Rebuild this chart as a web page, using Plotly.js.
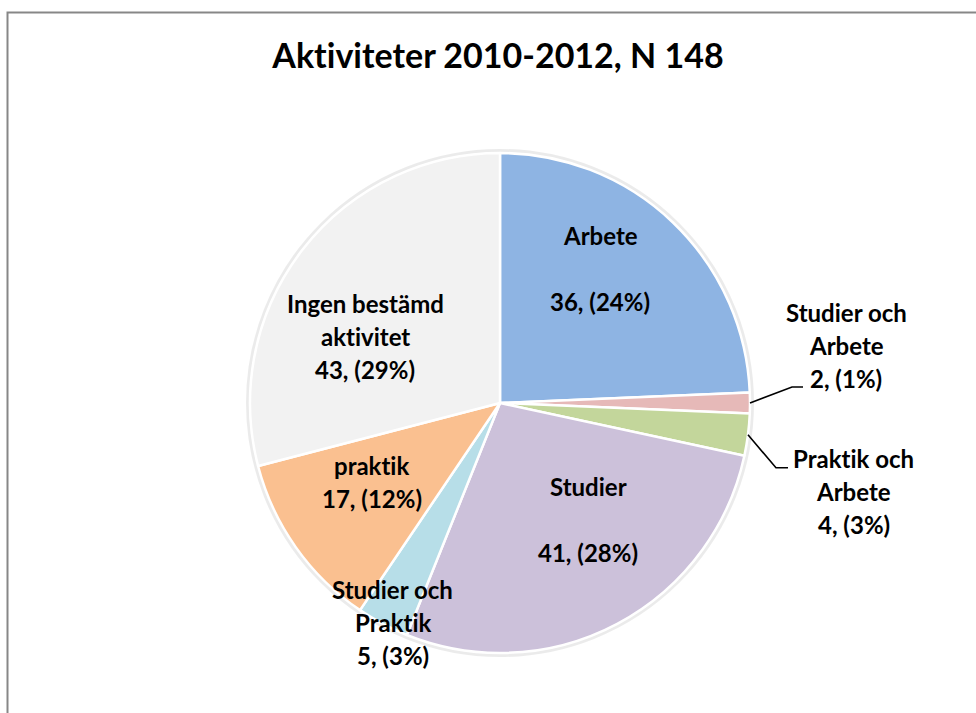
<!DOCTYPE html>
<html>
<head>
<meta charset="utf-8">
<script src="https://cdn.plot.ly/plotly-3.0.1.min.js"></script>
<style>
html,body{margin:0;padding:0;background:#fff;}
#chart{width:976px;height:713px;}
text{font-variant-ligatures:none;font-feature-settings:"liga" 0;}
</style>
</head>
<body>
<div id="chart"></div>
<script>
// ---- data ----
const categories = ['Arbete', 'Studier och Arbete', 'Praktik och Arbete', 'Studier',
                    'Studier och Praktik', 'praktik', 'Ingen bestämd aktivitet'];
const counts = [36, 2, 4, 41, 5, 17, 43];
const percents = [24, 1, 3, 28, 3, 12, 29];
const titleText = 'Aktiviteter 2010-2012, N 148';

// ---- styles ----
const colors = ['#8EB4E3', '#E6B9B8', '#C3D69B', '#CCC1DA', '#B7DEE8', '#FAC090', '#F2F2F2'];
// how the category text wraps in the label ('' = blank line)
const nameLines = [['Arbete', ''], ['Studier och', 'Arbete'], ['Praktik och', 'Arbete'],
                   ['Studier', ''], ['Studier och', 'Praktik'], ['praktik'],
                   ['Ingen bestämd', 'aktivitet']];
// label placement: radial factor of the slice mid-angle, plus px nudge
const labelR = [0.62, 1.0, 1.0, 0.58, 1.0, 0.6, 0.6];
const labelNudge = [[-7, -23], [96, -58], [106, 57], [20, -12], [10, -1], [-6, -8], [-16, 25]];
// leader lines: [elbow dx, elbow dy, horizontal length] from slice edge, or null
const leaders = [null, [42, -16, 11], [28, 33, 12], null, null, null, null];

const W = 976, H = 713;
const cx = 500, cy = 403, R = 250;
const lineGap = 33;
const px = x => x / W;
const py = y => 1 - y / H;
const FONT = 'Lato, Carlito, sans-serif';

const total = counts.reduce((a, b) => a + b, 0);
const annotations = [];
const shapes = [];

// chart border
shapes.push({type: 'rect', xref: 'paper', yref: 'paper', x0: px(7.5), x1: 1.1, y0: -0.1, y1: py(12.5),
             line: {color: '#878787', width: 2}, fillcolor: 'rgba(0,0,0,0)', layer: 'below'});
// soft shadow ring around the pie
shapes.push({type: 'circle', xref: 'paper', yref: 'paper', x0: px(cx - R - 2), x1: px(cx + R + 2),
             y0: py(cy + R + 2), y1: py(cy - R - 2), line: {color: 'rgba(0,0,0,0.08)', width: 4},
             fillcolor: 'rgba(0,0,0,0)', layer: 'below'});

let cum = 0;
counts.forEach((v, i) => {
  const mid = (cum + v / 2) / total * 2 * Math.PI;
  cum += v;
  const s = Math.sin(mid), c = Math.cos(mid);
  const lx = cx + labelR[i] * R * s + labelNudge[i][0];
  const ly = cy - labelR[i] * R * c + labelNudge[i][1];
  const lines = nameLines[i].concat([v + ', (' + percents[i] + '%)']);
  const n = lines.length;
  lines.forEach((t, k) => {
    if (!t) return;
    annotations.push({xref: 'paper', yref: 'paper', x: px(lx), y: py(ly + (k - (n - 1) / 2) * lineGap),
                      text: '<b>' + t + '</b>', showarrow: false, xanchor: 'center', yanchor: 'middle',
                      font: {family: FONT, size: 24, color: '#000'}});
  });
  if (leaders[i]) {
    const ex = cx + R * s, ey = cy - R * c;
    const [dx, dy, h] = leaders[i];
    shapes.push({type: 'path', xref: 'paper', yref: 'paper',
                 path: 'M' + px(ex) + ',' + py(ey) + ' L' + px(ex + dx) + ',' + py(ey + dy) +
                       ' L' + px(ex + dx + h) + ',' + py(ey + dy),
                 line: {color: '#000', width: 1.6}});
  }
});

const trace = {
  type: 'pie',
  labels: categories,
  values: counts,
  sort: false,
  direction: 'clockwise',
  rotation: 0,
  textinfo: 'none',
  hoverinfo: 'skip',
  marker: {colors: colors, line: {color: '#ffffff', width: 2.5}},
  domain: {x: [px(cx - R), px(cx + R)], y: [py(cy + R), py(cy - R)]},
  showlegend: false
};

const layout = {
  width: W, height: H,
  margin: {l: 0, r: 0, t: 0, b: 0},
  paper_bgcolor: '#ffffff',
  showlegend: false,
  title: {text: '<b>' + titleText + '</b>', x: px(498), xanchor: 'center', y: py(56), yanchor: 'middle',
          xref: 'paper', yref: 'paper',
          font: {family: FONT, size: 34, color: '#000'}},
  annotations: annotations,
  shapes: shapes
};

Plotly.newPlot('chart', [trace], layout, {displayModeBar: false, staticPlot: true});
</script>
</body>
</html>
